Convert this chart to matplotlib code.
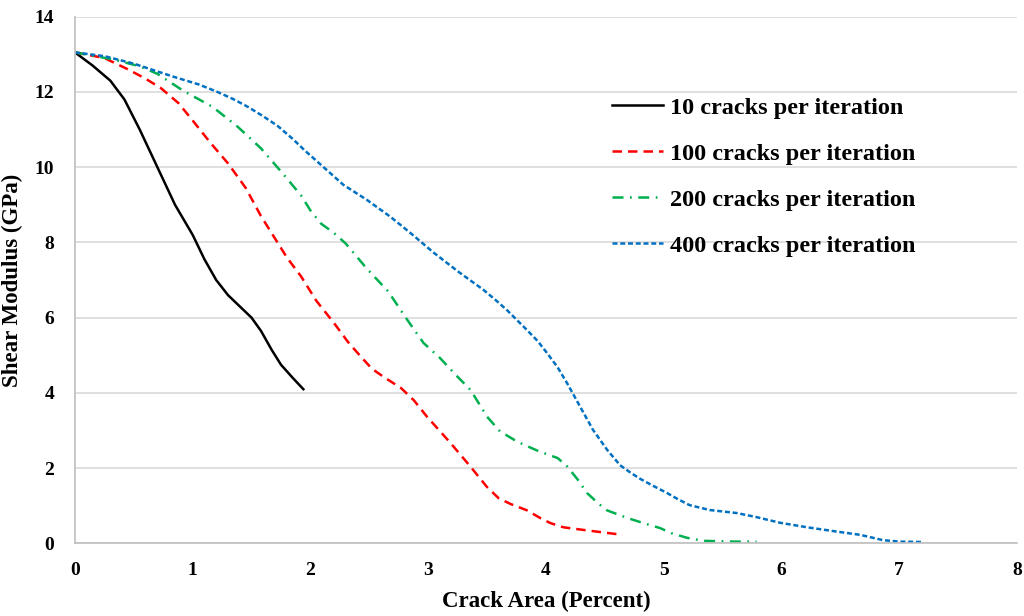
import matplotlib.pyplot as plt

# values
x_10 = [0, 0.15, 0.3, 0.42, 0.55, 0.7, 0.85, 1.0, 1.1, 1.2, 1.3, 1.4, 1.5, 1.58, 1.67, 1.75, 1.85, 1.94]
y_10 = [13.05, 12.7, 12.3, 11.8, 11.0, 10.0, 9.0, 8.2, 7.55, 7.0, 6.6, 6.3, 6.0, 5.65, 5.15, 4.75, 4.4, 4.1]

x_100 = [0, 0.25, 0.45, 0.6, 0.73, 0.88, 1.01, 1.15, 1.3, 1.45, 1.58, 1.7, 1.8, 1.92, 2.05, 2.2, 2.32,
         2.43, 2.52, 2.62, 2.77, 2.88, 2.99, 3.19, 3.36, 3.5, 3.6, 3.7, 3.84, 3.95, 4.04, 4.15, 4.32, 4.65]
y_100 = [13.05, 12.9, 12.6, 12.35, 12.1, 11.7, 11.2, 10.65, 10.1, 9.45, 8.7, 8.1, 7.6, 7.1, 6.45, 5.86, 5.35,
         4.96, 4.65, 4.43, 4.13, 3.8, 3.37, 2.67, 2.04, 1.5, 1.2, 1.05, 0.88, 0.68, 0.54, 0.43, 0.36, 0.23]

x_200 = [0, 0.33, 0.55, 0.7, 0.92, 1.17, 1.38, 1.58, 1.76, 1.92, 2.0, 2.09, 2.2, 2.3, 2.48, 2.66, 2.81,
         2.96, 3.1, 3.25, 3.36, 3.5, 3.61, 3.76, 3.94, 4.1, 4.18, 4.27, 4.35, 4.45, 4.52, 4.69, 4.82,
         4.97, 5.07, 5.2, 5.34, 5.48, 5.61, 5.79]
y_200 = [13.05, 12.86, 12.68, 12.48, 12.03, 11.6, 11.08, 10.5, 9.85, 9.25, 8.85, 8.5, 8.25, 7.97, 7.3, 6.7, 6.0,
         5.33, 4.93, 4.43, 4.08, 3.37, 2.98, 2.7, 2.45, 2.27, 2.05, 1.7, 1.34, 1.05, 0.88, 0.68, 0.55,
         0.41, 0.27, 0.15, 0.07, 0.06, 0.05, 0.05]

x_400 = [0, 0.25, 0.5, 0.84, 1.05, 1.21, 1.35, 1.47, 1.6, 1.72, 1.85, 1.95, 2.09, 2.28, 2.48, 2.68, 2.85,
         3.05, 3.27, 3.47, 3.58, 3.67, 3.76, 3.84, 3.93, 4.01, 4.1, 4.18, 4.29, 4.4, 4.52, 4.63, 4.72,
         4.8, 4.9, 5.03, 5.12, 5.22, 5.39, 5.62, 5.79, 5.99, 6.22, 6.44, 6.67, 6.78, 6.86, 7.0, 7.19]
y_400 = [13.05, 12.95, 12.75, 12.4, 12.2, 12.0, 11.8, 11.6, 11.35, 11.1, 10.75, 10.45, 10.06, 9.53, 9.13, 8.68,
         8.25, 7.72, 7.19, 6.74, 6.45, 6.2, 5.92, 5.67, 5.38, 5.06, 4.68, 4.26, 3.64, 3.02, 2.49, 2.08, 1.88,
         1.72, 1.55, 1.34, 1.18, 1.02, 0.89, 0.81, 0.7, 0.55, 0.43, 0.33, 0.23, 0.15, 0.09, 0.05, 0.04]

labels = ['10 cracks per iteration', '100 cracks per iteration',
          '200 cracks per iteration', '400 cracks per iteration']

plt.rcParams['font.family'] = ['Liberation Serif', 'DejaVu Serif']
plt.rcParams['font.weight'] = 'bold'

fig = plt.figure(figsize=(10.24, 6.16), dpi=100)
ax = fig.add_axes([0.0732, 0.1177, 0.9198, 0.8553])

lw = 1.8
ax.plot(x_10, y_10, color='black', lw=lw, label=labels[0])
ax.plot(x_100, y_100, color='#FF0000', lw=lw, dashes=(3.8, 2.4), label=labels[1])
ax.plot(x_200, y_200, color='#00B050', lw=lw, dashes=(4.4, 2.6, 0.7, 2.6), label=labels[2])
ax.plot(x_400, y_400, color='#0070C0', lw=lw, dashes=(2.0, 1.1), label=labels[3])

ax.set_xlim(0, 8)
ax.set_ylim(0, 14)
ax.set_xticks(range(0, 9))
ax.set_yticks(range(0, 15, 2))
ax.grid(axis='y', color='#D9D9D9', lw=1.2)
ax.set_axisbelow(True)
for s in ['top', 'right']:
    ax.spines[s].set_visible(False)
for s in ['left', 'bottom']:
    ax.spines[s].set_color('#BFBFBF')
    ax.spines[s].set_linewidth(1.2)
ax.tick_params(axis='y', length=0, labelsize=14, pad=15)
ax.tick_params(axis='x', length=0, labelsize=14, pad=13)
for t in ax.get_xticklabels() + ax.get_yticklabels():
    t.set_fontweight('bold')

ax.set_xlabel('Crack Area (Percent)', fontsize=16.5, fontweight='bold', labelpad=9)
ax.set_ylabel('Shear Modulus (GPa)', fontsize=16.5, fontweight='bold', labelpad=8)

leg = ax.legend(loc='upper left', bbox_to_anchor=(0.547, 0.889), frameon=False,
                fontsize=17.5, handlelength=2.1, handletextpad=0.3, labelspacing=0.98)
for t in leg.get_texts():
    t.set_fontweight('bold')

fig.savefig('out.png', dpi=100)
